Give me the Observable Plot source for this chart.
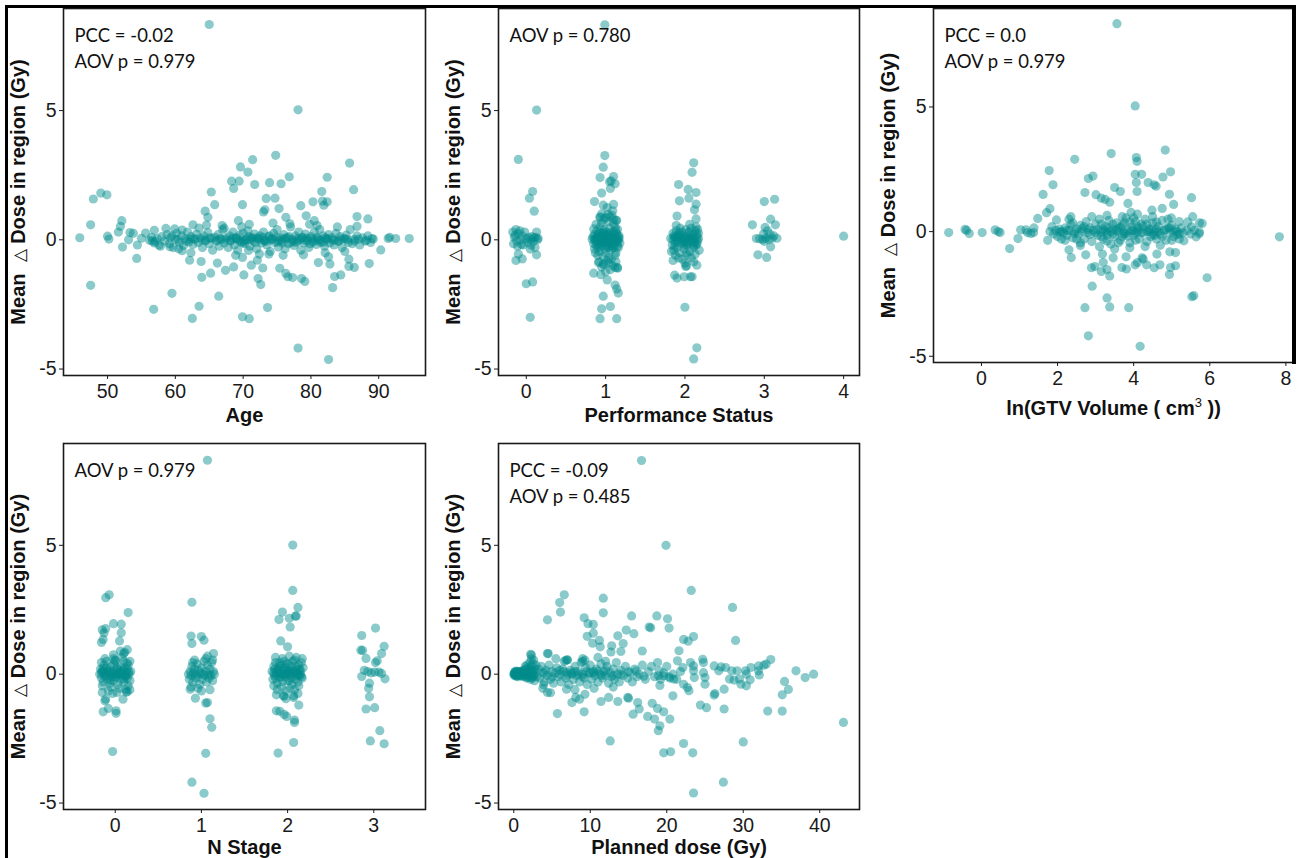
<!DOCTYPE html>
<html><head><meta charset="utf-8">
<script src="https://cdn.jsdelivr.net/npm/d3@7"></script>
<script src="https://cdn.jsdelivr.net/npm/@observablehq/plot@0.6"></script>
<style>
body{margin:0;background:#fff}
#fig{position:relative;width:1298px;height:858px;overflow:hidden;background:#fff}
.pan{position:absolute}
.deco{position:absolute;background:#000}
</style>
</head><body><div id="fig"></div>
<script>
// ---------- shared axis settings ----------
const yLabelText = "Mean  \u2206 Dose in region (Gy)";
const yTicks = [-5, 0, 5];
const yDomain = [-5.25, 8.95];

// ---------- Panel 1 : Age ----------
const ageTicks = [50, 60, 70, 80, 90];
const ageNotes = "PCC = -0.02\nAOV p = 0.979";
const agePts = [
[65.0,8.33],[78.1,5.03],[45.9,0.08],[47.5,0.58],[47.9,1.58],[49.0,1.81],[49.9,1.74],[47.5,-1.76],[50.0,0.14],[50.2,0.03],
[51.6,0.3],[51.9,0.52],[52.1,0.74],[52.2,-0.28],[53.3,0.28],[53.8,0.25],[53.1,0.0],[54.3,-0.72],[54.4,-0.2],[55.0,0.06],
[55.6,0.26],[56.8,-2.69],[56.9,0.37],[56.6,-0.05],[57.0,-0.06],[57.8,-0.25],[58.6,0.44],[59.5,-2.07],[59.5,0.15],[59.2,-0.27],
[60.5,-0.35],[61.0,0.38],[62.1,-0.79],[62.5,-3.04],[62.3,-0.5],[62.6,0.58],[63.5,-2.57],[63.8,-0.84],[63.9,-1.45],[64.4,1.11],
[64.8,0.87],[64.6,0.57],[65.2,-1.29],[65.3,1.85],[65.8,1.36],[66.2,-0.9],[66.4,-2.18],[67.2,0.45],[67.4,-1.18],[68.3,2.27],
[68.6,1.99],[68.6,-1.05],[69.4,2.27],[69.3,0.74],[69.6,2.82],[69.9,1.36],[69.9,-2.98],[70.1,-1.36],[69.9,-0.68],[70.7,2.62],
[70.9,-3.05],[70.8,-0.41],[71.2,-0.98],[71.4,3.1],[71.7,2.14],[72.1,-0.79],[72.2,-1.5],[72.6,-1.73],[72.9,-1.09],[73.2,1.16],
[73.4,1.6],[73.6,-2.62],[73.9,2.21],[73.0,1.08],[74.7,1.61],[74.8,3.27],[75.3,1.21],[75.4,-1.1],[75.6,2.17],[76.3,0.87],
[76.3,-1.3],[76.6,-1.43],[76.8,2.44],[77.3,-1.46],[78.1,-4.19],[78.5,1.32],[78.6,-1.5],[79.1,-1.61],[79.3,0.93],[80.3,1.47],
[80.5,0.74],[81.1,-0.88],[81.6,1.87],[81.7,1.5],[81.9,1.34],[82.4,1.47],[82.4,2.42],[82.6,-4.63],[82.6,-0.66],[82.8,-0.94],
[83.2,-1.85],[83.5,-1.42],[84.4,-1.36],[85.6,-0.75],[85.6,-1.03],[85.7,2.97],[86.3,1.94],[86.4,-1.07],[86.8,0.9],[86.8,0.52],
[88.4,0.81],[88.6,-0.92],[89.0,0.05],[90.3,-0.39],[91.4,0.05],[91.6,0.1],[92.5,0.05],[94.5,0.05],
[56.2,-0.02],[56.5,0.1],[56.9,-0.12],[57.3,0.05],[57.6,-0.2],[58.0,0.12],[58.4,-0.05],[58.8,0.2],[59.1,-0.15],[59.3,0.08],
[59.7,-0.3],[60.0,0.02],[60.2,0.25],[60.6,-0.1],[60.9,0.15],[61.2,-0.22],[61.5,0.05],[61.8,0.3],[62.0,-0.08],[62.3,0.12],
[62.6,-0.18],[62.9,0.02],[63.1,0.22],[63.4,-0.1],[63.7,0.08],[64.0,-0.3],[64.2,0.15],[64.5,-0.02],[64.8,0.28],[65.0,-0.15],
[65.3,0.05],[65.5,-0.4],[65.8,0.1],[66.0,-0.06],[66.3,0.2],[66.5,-0.25],[66.8,0.02],[67.0,0.4],[67.2,-0.12],[67.5,0.08],
[67.8,-0.3],[68.0,0.15],[68.2,-0.05],[68.5,0.3],[68.7,-0.2],[69.0,0.05],[69.2,-0.4],[69.5,0.18],[69.7,-0.08],[70.0,0.25],
[70.2,-0.15],[70.5,0.02],[70.7,0.35],[71.0,-0.25],[71.2,0.1],[71.5,-0.05],[71.7,0.22],[72.0,-0.35],[72.2,0.05],[72.5,0.15],
[72.7,-0.12],[73.0,0.3],[73.2,-0.02],[73.5,-0.2],[73.7,0.12],[74.0,-0.45],[74.2,0.05],[74.5,0.25],[74.7,-0.1],[75.0,0.4],
[75.2,-0.28],[75.5,0.08],[75.7,-0.05],[76.0,0.2],[76.2,-0.35],[76.5,0.1],[76.7,-0.15],[77.0,0.5],[77.2,0.02],[77.5,-0.22],
[77.7,0.15],[78.0,-0.05],[78.2,0.3],[78.5,-0.4],[78.7,0.08],[79.0,-0.12],[79.2,0.22],[79.5,-0.02],[79.7,-0.3],[80.0,0.12],
[80.3,-0.08],[80.5,0.3],[80.8,-0.18],[81.0,0.05],[81.3,0.4],[81.5,-0.1],[81.8,0.15],[82.0,-0.25],[82.3,0.02],[82.6,0.2],
[82.8,-0.12],[83.1,0.08],[83.4,-0.2],[83.7,0.25],[84.0,-0.05],[84.3,0.12],[84.6,-0.3],[84.9,0.05],[85.2,0.18],[85.5,-0.1],
[85.8,0.4],[86.1,-0.15],[86.4,0.02],[86.8,0.15],[87.2,-0.2],[87.6,0.08],[88.0,-0.05],[88.4,0.15],[88.8,-0.1],[89.2,0.03],
[66.9,0.55],[68.9,-0.6],[70.9,0.6],[72.4,-0.55],[74.4,0.65],[75.9,-0.6],[76.9,0.62],[78.9,-0.58],[80.9,0.55],[82.1,-0.5],
[83.9,0.5],[85.0,-0.45],[63.5,0.45],[61.0,-0.42],[59.9,0.42],[69.8,0.5],[73.8,-0.55],[79.8,0.6],
[60.4,0.0],[61.6,-0.05],[62.7,0.05],[63.9,0.0],[65.1,0.08],[66.2,-0.02],[67.4,0.0],[68.4,0.06],[69.4,-0.04],[70.4,0.0],
[71.4,0.06],[72.4,0.0],[73.4,-0.06],[74.4,0.02],[75.4,-0.02],[76.4,0.05],[77.4,-0.04],[78.4,0.0],[79.4,0.06],[80.4,-0.03],
[81.4,0.0],[82.4,0.05],[83.4,-0.02],[84.4,0.02],[85.4,0.0],[86.4,-0.05],[74.9,0.1],[75.8,-0.12],[76.8,0.12],[77.8,-0.1],
[78.8,0.1],[71.8,-0.1],[70.8,0.12],[69.9,-0.12],[68.9,0.1],[72.9,0.1],[73.9,0.15],[79.9,-0.15],[80.9,0.1],[81.9,-0.08]
];
const ageCore = [
[62.2,0.02],[64.4,-0.04],[66.6,0.05],[68.1,-0.02],[69.1,0.04],[70.1,-0.06],[71.1,0.02],[72.1,0.08],[73.1,-0.04],[74.1,0.0],
[75.1,-0.08],[76.1,0.04],[77.1,-0.1],[78.1,0.06],[79.1,-0.02],[80.1,0.05],[81.1,-0.04],[82.1,0.08],[83.1,0.0],[84.1,-0.06],
[85.1,0.04],[87.0,0.02],[88.2,-0.02]
];

// ---------- Panel 2 : Performance Status ----------
const psTicks = [0, 1, 2, 3, 4];
const psNotes = "AOV p = 0.780";
const psPts = [
[-0.10,3.11],[0.13,5.02],[0.08,1.87],[0.04,1.61],[0.10,1.11],[0.13,0.3],[0.13,-0.58],[-0.10,-0.55],[-0.05,-0.74],[-0.13,-0.8],
[0.0,-1.7],[0.08,-1.63],[0.05,-3.0],[0.05,-0.36],
[-0.17,0.3],[-0.15,0.1],[-0.13,0.4],[-0.12,-0.05],[-0.1,0.25],[-0.08,0.35],[-0.07,0.0],[-0.05,0.15],[-0.04,-0.2],[-0.02,0.3],
[0.0,0.05],[0.02,-0.1],[0.03,0.1],[0.05,0.0],[0.07,0.12],[0.09,-0.05],[0.1,0.08],[0.12,0.1],[0.14,0.0],[-0.16,-0.15],
[-0.11,-0.25],[-0.06,-0.18],[0.06,-0.2],[0.11,-0.3],[0.15,0.05],[-0.14,0.18],
[0.99,8.32],[0.99,3.26],[0.97,2.81],[0.93,2.41],[1.10,2.45],[1.05,2.25],[1.07,2.28],[1.12,2.17],[1.06,1.99],[0.95,1.81],
[0.86,1.48],[0.97,1.34],[1.10,1.37],[1.09,1.12],[0.93,0.89],[1.0,0.86],[1.13,0.75],[1.03,0.99],
[0.85,-1.29],[0.94,-1.35],[1.0,-1.24],[0.91,-0.88],[0.97,-0.94],[1.07,-0.75],[1.12,-1.07],[1.15,-1.07],[1.02,-1.55],[1.12,-1.75],
[1.14,-1.9],[1.16,-2.06],[0.97,-2.18],[0.95,-2.67],[1.06,-2.58],[0.93,-3.05],[1.14,-3.05],
[0.83,0.02],[0.85,-0.15],[0.86,0.2],[0.88,-0.05],[0.89,0.35],[0.9,-0.3],[0.91,0.1],[0.92,-0.45],[0.93,0.5],[0.94,0.0],
[0.95,-0.2],[0.96,0.25],[0.97,-0.1],[0.98,0.4],[0.99,-0.35],[1.0,0.05],[1.01,0.3],[1.02,-0.25],[1.03,0.12],[1.04,-0.05],
[1.05,0.45],[1.06,-0.4],[1.07,0.18],[1.08,-0.15],[1.09,0.02],[1.1,0.3],[1.11,-0.28],[1.12,0.08],[1.13,-0.5],[1.14,0.22],
[1.15,-0.08],[1.16,0.0],[1.17,0.15],[1.18,-0.12],[0.84,0.12],[0.87,0.05],[0.9,0.15],[0.93,-0.12],[0.96,0.08],[0.99,0.0],
[1.02,0.08],[1.05,-0.08],[1.08,0.1],[1.11,0.0],[1.14,-0.05],[1.17,0.05],[0.88,0.6],[0.95,0.65],[1.03,0.7],[1.1,0.62],
[0.9,-0.6],[0.97,-0.65],[1.04,-0.7],[1.12,-0.6],[0.86,-0.35],[1.15,0.4],[1.0,-0.5],[0.92,0.28],[1.07,-0.22],[1.13,0.35],
[0.85,0.42],[1.16,-0.3],[0.94,-0.02],[1.01,-0.1],[1.06,0.2],[0.98,0.18],[1.09,-0.32],[0.91,-0.18],[1.12,0.5],[0.87,-0.5],
[0.93,0.85],[0.95,1.0],[1.05,0.9],[1.1,0.8],[1.02,1.25],[1.08,0.95],[0.98,0.8],[1.14,0.75],[0.92,-0.85],[0.98,-0.95],
[1.04,-0.9],[1.09,-1.0],[1.13,-0.85],[0.95,-1.05],[1.06,-1.15],[1.02,-0.8],[1.15,-1.1],
[2.11,2.98],[2.09,2.61],[1.92,2.14],[2.04,1.95],[2.14,1.83],[2.05,1.61],[1.93,1.51],[2.14,1.38],[2.12,1.16],[1.90,0.92],
[2.14,0.81],[1.87,-1.37],[1.90,-1.48],[1.99,-1.43],[2.07,-1.43],[2.09,-1.43],[2.01,-1.03],[2.02,-1.0],[2.15,-0.98],[2.0,-2.61],
[2.15,-4.18],[2.11,-4.61],
[1.82,0.05],[1.84,-0.2],[1.85,0.25],[1.86,-0.4],[1.87,0.1],[1.88,-0.1],[1.89,0.35],[1.9,-0.3],[1.91,0.0],[1.92,0.2],
[1.93,-0.5],[1.94,0.08],[1.95,-0.15],[1.96,0.3],[1.97,-0.05],[1.98,0.15],[1.99,-0.35],[2.0,0.02],[2.01,0.4],[2.02,-0.2],
[2.03,0.1],[2.04,-0.08],[2.05,0.28],[2.06,-0.45],[2.07,0.05],[2.08,0.45],[2.09,-0.12],[2.1,0.2],[2.11,-0.3],[2.12,0.0],
[2.13,0.35],[2.14,-0.2],[2.15,0.1],[2.16,-0.05],[2.17,0.25],[2.18,-0.4],[1.86,0.15],[1.9,0.12],[1.95,0.05],[2.0,-0.1],
[2.05,0.0],[2.1,0.08],[2.15,-0.15],[1.88,-0.6],[1.92,-0.7],[1.97,-0.75],[2.03,-0.6],[2.08,-0.7],[2.13,-0.55],[1.85,-0.8],
[2.0,-0.9],[2.11,-0.85],[1.89,0.55],[2.06,0.6],[2.14,0.5],[1.94,0.45],[2.02,-0.5],[1.83,-0.45],[2.16,0.4],
[2.85,0.58],[3.0,1.48],[3.13,1.57],[3.08,0.8],[3.14,0.58],[3.01,0.48],[3.04,0.35],[2.92,-0.58],[3.03,-0.68],[3.08,-0.27],
[2.9,0.05],[2.94,0.04],[2.98,0.01],[3.02,0.06],[3.06,0.01],[3.1,0.06],[3.16,0.06],[3.0,-0.06],[3.12,0.15],[2.99,0.22],[3.07,0.22],
[4.0,0.14]
];
const psCore = [
[0.86,0.0],[0.89,0.08],[0.92,-0.05],[0.95,0.12],[0.98,-0.08],[1.01,0.15],[1.04,0.02],[1.07,-0.12],[1.1,0.1],[1.13,-0.02],
[1.16,0.12],[0.88,-0.2],[0.91,0.22],[0.94,-0.28],[0.97,0.3],[1.0,-0.18],[1.03,-0.3],[1.06,0.28],[1.09,-0.22],[1.12,0.2],
[1.15,-0.25],[0.9,0.0],[1.0,0.2],[1.05,0.0],[0.96,-0.02],
[1.85,0.0],[1.88,0.1],[1.91,-0.08],[1.94,0.15],[1.97,0.02],[2.0,0.1],[2.03,-0.15],[2.06,0.12],[2.09,0.0],[2.12,-0.1],
[2.15,0.2],[1.87,-0.25],[1.93,0.28],[1.99,-0.2],[2.05,0.3],[2.11,-0.22],[2.17,0.05]
];

// ---------- Panel 3 : ln(GTV volume) ----------
const gtvTicks = [0, 2, 4, 6, 8];
const gtvNotes = "PCC = 0.0\nAOV p = 0.979";
const gtvPts = [
[3.56,8.34],[4.04,5.04],[-0.86,-0.04],[-0.43,0.09],[-0.39,0.05],[-0.32,-0.08],[0.02,-0.04],[0.36,0.07],[0.49,-0.04],[0.44,0.0],
[0.74,-0.68],[0.96,-0.28],[1.03,0.07],[1.17,0.07],[1.21,-0.04],[1.3,-0.08],[1.38,0.15],[1.37,-0.04],[1.48,0.53],[1.62,1.49],
[1.71,0.76],[1.8,0.92],[1.78,2.45],[1.88,1.88],[1.74,-0.35],[1.97,0.47],[2.35,0.6],[2.3,-0.73],[2.36,-1.04],[2.45,2.9],
[2.6,-0.56],[2.72,1.57],[2.74,-0.93],[2.81,2.13],[2.93,2.23],[2.89,-1.45],[2.98,-1.4],[2.91,-2.19],[2.72,-3.05],[2.81,-4.18],
[3.01,1.48],[3.15,1.34],[3.25,1.29],[3.37,1.18],[3.18,-0.9],[3.2,-1.24],[3.15,-1.6],[3.3,-1.52],[3.3,-2.66],[3.37,-3.02],
[3.37,-1.78],[3.41,3.13],[3.5,1.77],[3.46,-1.05],[3.65,1.61],[3.69,-1.44],[3.81,-1.5],[3.8,-1.01],[3.87,-3.05],[3.85,1.13],
[3.93,0.77],[4.07,2.97],[4.09,2.82],[4.04,2.3],[4.21,2.3],[4.07,1.97],[4.09,1.61],[4.04,-1.33],[4.1,-1.24],[4.22,-1.05],
[4.25,-1.1],[4.17,-4.6],[4.34,-1.33],[4.38,1.97],[4.54,1.88],[4.59,1.82],[4.48,0.86],[4.54,-1.45],[4.69,-1.33],[4.61,-0.9],
[4.75,0.93],[4.77,2.19],[4.83,3.27],[4.97,2.4],[4.94,1.5],[5.05,1.09],[4.99,0.55],[4.94,-1.72],[4.97,-1.44],[5.1,-1.37],
[4.95,-0.81],[5.1,-0.84],[5.2,-0.3],[5.32,-0.37],[5.42,0.39],[5.52,1.36],[5.55,0.6],[5.52,0.19],[5.73,0.35],[5.8,0.33],
[5.64,-0.21],[5.72,-0.09],[5.73,-0.02],[5.53,-2.61],[5.58,-2.57],[5.93,-1.85],[7.83,-0.21],
[1.8,0.0],[1.85,0.2],[1.9,-0.1],[1.95,0.05],[2.0,-0.2],[2.05,0.1],[2.1,0.0],[2.15,-0.05],[2.2,0.15],[2.25,-0.15],
[2.3,0.05],[2.35,0.3],[2.4,-0.25],[2.45,0.0],[2.5,0.1],[2.55,-0.1],[2.6,0.25],[2.65,0.02],[2.7,-0.3],[2.75,0.4],
[2.8,-0.05],[2.85,0.15],[2.9,-0.4],[2.95,0.05],[3.0,0.3],[3.05,-0.15],[3.1,0.5],[3.15,0.0],[3.2,-0.3],[3.25,0.2],
[3.3,-0.05],[3.35,0.45],[3.4,-0.5],[3.45,0.1],[3.5,-0.2],[3.55,0.35],[3.6,0.0],[3.65,-0.35],[3.7,0.25],[3.75,-0.1],
[3.8,0.55],[3.85,0.05],[3.9,-0.45],[3.95,0.2],[4.0,-0.15],[4.05,0.4],[4.1,0.0],[4.15,-0.3],[4.2,0.3],[4.25,-0.05],
[4.3,0.5],[4.35,-0.4],[4.4,0.1],[4.45,-0.2],[4.5,0.35],[4.55,0.0],[4.6,-0.3],[4.65,0.2],[4.7,-0.1],[4.75,0.45],
[4.8,0.05],[4.85,-0.35],[4.9,0.15],[4.95,-0.05],[5.0,0.25],[5.05,-0.2],[5.1,0.1],[5.15,0.0],[5.2,-0.1],[5.25,0.15],
[5.3,-0.05],[5.4,0.05],[5.5,-0.1],[5.6,0.05],[2.6,-0.45],[2.9,0.6],[3.1,-0.6],[3.3,0.65],[3.5,-0.7],[3.7,0.6],
[3.9,-0.65],[4.1,0.7],[4.3,-0.6],[4.5,0.6],[4.7,-0.55],[4.9,0.5],[3.2,0.1],[3.4,0.0],[3.6,0.12],[3.8,-0.08],
[4.0,0.05],[4.2,-0.05],[4.4,0.0],[4.6,0.08],[3.0,-0.05],[2.8,0.08],[3.3,-0.15],[3.7,-0.2],[4.1,0.2],[4.5,-0.12],
[2.2,-0.35],[2.4,0.35],[5.2,0.4],[5.0,-0.35],[3.6,-0.45],[4.0,0.55],[2.3,0.5],[2.1,-0.3]
];
const gtvCore = [
[2.05,-0.02],[2.25,0.05],[2.45,-0.08],[2.65,0.12],[2.85,-0.12],[3.05,0.08],[3.15,-0.2],[3.25,0.02],[3.35,0.15],[3.45,-0.1],
[3.55,0.05],[3.65,0.18],[3.75,-0.02],[3.85,-0.18],[3.95,0.05],[4.05,-0.05],[4.15,0.12],[4.25,0.22],[4.35,0.0],[4.45,0.1],
[4.55,-0.15],[4.65,0.0],[4.75,-0.2],[4.85,0.1],[4.95,0.15],[5.05,0.0],[5.15,-0.12],[3.15,0.3],[3.45,0.3],[3.75,0.35],
[4.05,-0.35],[4.35,0.3],[3.9,0.4],[3.3,-0.38],[4.6,0.38],[2.7,0.2],[2.5,-0.3]
];

// ---------- Panel 4 : N stage ----------
const nTicks = [0, 1, 2, 3];
const nNotes = "AOV p = 0.979";
const nPts = [
[1.07,8.30],[2.06,5.01],
[-0.11,2.97],[-0.07,3.08],[0.15,2.39],[-0.15,1.72],[-0.13,1.6],[-0.11,1.77],[-0.02,1.96],[0.07,1.94],
[0.07,1.61],[0.05,1.29],[-0.16,1.23],[-0.14,1.35],[0.11,0.85],[-0.02,0.75],[0.0,0.52],[0.14,0.43],[-0.15,-0.71],[-0.12,-1.03],
[-0.11,-0.97],[-0.08,-1.33],[-0.14,-1.46],[0.01,-1.52],[0.01,-1.42],[0.02,-0.71],[0.09,-0.97],[0.14,-0.67],[-0.03,-3.0],
[-0.18,0.0],[-0.17,0.2],[-0.16,-0.15],[-0.15,0.1],[-0.14,-0.3],[-0.13,0.35],[-0.12,0.05],[-0.11,-0.05],[-0.1,0.25],[-0.09,-0.2],
[-0.08,0.0],[-0.07,0.15],[-0.06,-0.35],[-0.05,0.3],[-0.04,-0.1],[-0.03,0.08],[-0.02,-0.25],[-0.01,0.4],[0.0,0.02],[0.01,-0.12],
[0.02,0.2],[0.03,-0.4],[0.04,0.1],[0.05,-0.05],[0.06,0.3],[0.07,-0.2],[0.08,0.0],[0.09,0.15],[0.1,-0.3],[0.11,0.25],
[0.12,-0.08],[0.13,0.05],[0.14,-0.15],[0.15,0.35],[0.16,0.0],[0.17,-0.25],[0.18,0.1],[-0.15,-0.45],[-0.1,0.5],[-0.05,-0.5],
[0.0,0.55],[0.05,-0.55],[0.1,0.5],[0.15,-0.45],[-0.12,0.6],[0.12,-0.6],[-0.08,-0.65],[0.08,0.65],[-0.16,0.45],[0.17,0.5],
[0.13,-0.7],[-0.03,-0.75],[0.1,0.8],[0.14,0.95],[0.06,0.9],[-0.02,0.6],[0.17,-0.6],[-0.14,0.1],[0.02,-0.02],[-0.06,0.05],
[0.89,2.79],[0.88,1.48],[0.89,1.19],[1.0,1.46],[1.03,1.32],[1.14,0.8],[0.87,-0.58],[0.93,-0.93],[1.05,-1.12],[1.07,-1.1],
[1.1,-1.73],[1.12,-2.06],[1.05,-3.07],[0.89,-4.19],[1.03,-4.62],
[0.85,0.0],[0.86,-0.2],[0.87,0.1],[0.88,-0.05],[0.89,0.3],[0.9,-0.3],[0.91,0.05],[0.92,0.2],[0.93,-0.15],[0.94,0.0],
[0.95,0.4],[0.96,-0.1],[0.97,0.15],[0.98,-0.4],[0.99,0.05],[1.0,0.25],[1.01,-0.2],[1.02,0.0],[1.03,0.5],[1.04,-0.05],
[1.05,0.1],[1.06,-0.3],[1.07,0.35],[1.08,0.0],[1.09,-0.15],[1.1,0.2],[1.11,-0.05],[1.12,0.45],[1.13,-0.25],[1.14,0.1],
[1.15,0.0],[0.92,0.55],[1.05,0.6],[0.96,-0.55],[1.1,-0.6],[0.88,-0.5],[1.13,0.55],[0.9,0.45],[1.0,-0.65],[1.07,0.7],
[2.06,3.25],[2.12,2.59],[1.94,2.41],[1.9,2.12],[2.02,2.17],[2.09,2.25],[2.1,2.26],[2.03,1.83],[1.92,1.29],[2.0,1.06],
[1.87,-1.42],[1.91,-1.44],[1.96,-1.56],[1.99,-1.64],[2.08,-1.78],[2.08,-1.87],[2.13,-1.2],[2.07,-0.84],[1.95,-0.84],[1.98,-0.95],
[2.07,-2.65],[1.89,-3.06],
[1.82,0.1],[1.83,-0.2],[1.84,0.3],[1.85,-0.05],[1.86,0.45],[1.87,0.0],[1.88,-0.35],[1.89,0.2],[1.9,0.05],[1.91,-0.15],
[1.92,0.35],[1.93,0.0],[1.94,-0.3],[1.95,0.15],[1.96,0.5],[1.97,-0.1],[1.98,0.25],[1.99,0.02],[2.0,-0.25],[2.01,0.4],
[2.02,0.1],[2.03,-0.05],[2.04,0.3],[2.05,-0.4],[2.06,0.15],[2.07,0.0],[2.08,0.55],[2.09,-0.2],[2.1,0.2],[2.11,0.05],
[2.12,-0.3],[2.13,0.35],[2.14,-0.05],[2.15,0.12],[2.16,0.45],[2.17,-0.15],[2.18,0.25],[1.85,0.2],[1.9,0.3],[1.95,-0.02],
[2.0,0.15],[2.05,0.08],[2.1,-0.08],[2.15,0.0],[1.84,-0.45],[1.88,-0.6],[1.93,-0.5],[1.98,-0.65],[2.03,-0.55],[2.08,-0.6],
[2.13,-0.45],[1.86,0.65],[1.94,0.6],[2.02,0.7],[2.1,0.65],[2.17,0.6],[1.87,-0.8],[1.96,-0.85],[2.07,-0.9],[2.12,-0.75],
[1.91,0.45],[2.06,0.5],[1.99,0.4],
[2.86,1.5],[3.02,1.79],[3.12,1.08],[2.85,0.93],[2.87,0.92],[3.09,0.8],[2.91,0.61],[3.02,0.45],[3.04,0.52],[2.89,0.15],
[2.93,0.1],[2.97,0.05],[3.01,0.08],[3.06,0.08],[3.09,0.03],[2.86,-0.09],[3.13,-0.18],[2.95,-0.35],[2.94,-0.55],[2.95,-0.88],
[2.91,-1.35],[3.01,-1.3],[3.07,-2.19],[2.96,-2.59],[3.12,-2.7]
];
const nCore = [
[-0.16,0.05],[-0.12,-0.1],[-0.08,0.12],[-0.04,0.0],[0.0,-0.1],[0.04,0.05],[0.08,0.12],[0.12,-0.05],[0.16,0.08],[-0.14,0.22],
[-0.06,-0.22],[0.02,0.25],[0.1,-0.18],[0.14,0.2],
[1.84,0.05],[1.88,0.12],[1.92,-0.1],[1.96,0.0],[2.0,0.05],[2.04,-0.15],[2.08,0.1],[2.12,0.0],[2.16,-0.1],[1.86,-0.15],
[1.94,0.22],[2.02,-0.25],[2.1,0.3],[2.14,0.18]
];

// ---------- Panel 5 : Planned dose ----------
const doseTicks = [0, 10, 20, 30, 40];
const doseNotes = "PCC = -0.09\nAOV p = 0.485";
const dosePts = [
[16.7,8.29],[19.9,5.0],[23.2,3.25],[6.6,3.08],[6.0,2.78],[6.1,2.41],[4.4,2.11],[11.7,2.95],[11.7,2.38],[9.2,2.19],
[9.7,1.96],[10.4,1.93],[9.6,1.47],[10.4,1.59],[10.3,1.2],[11.2,1.31],[11.3,1.06],[12.8,1.1],[12.7,0.86],[14.0,0.88],
[14.3,1.19],[14.7,1.71],[13.6,1.49],[15.7,1.57],[15.4,2.26],[17.7,1.83],[17.9,1.8],[18.7,2.26],[20.1,2.15],[20.3,1.79],[16.8,0.9],
[21.6,0.91],[22.2,1.35],[22.8,1.28],[23.5,1.46],[28.6,2.59],[29.0,1.31],[33.6,0.57],[36.9,0.13],[38.1,-0.13],[39.2,0.0],
[43.1,-1.87],[35.4,-0.28],[35.1,-0.8],[35.9,-0.59],[35.1,-1.43],[33.2,-1.43],[30.0,-2.63],[27.4,-4.19],[23.5,-4.61],[22.2,-2.69],
[23.4,-3.05],[19.6,-3.05],[20.5,-3.01],[12.6,-2.59],[5.7,-1.53],[9.2,-1.46],[7.6,-1.1],[8.1,-0.9],[8.6,-0.97],[9.3,-0.78],
[11.4,-1.06],[13.6,-1.06],[12.4,-0.9],[14.9,-0.9],[15.0,-0.93],[15.6,-1.55],[16.2,-1.1],[16.4,-1.35],[17.5,-1.64],[18.1,-1.13],
[18.4,-1.74],[18.8,-1.33],[19.1,-2.0],[18.9,-2.19],[19.6,-1.46],[20.4,-1.74],[20.8,-0.84],[24.4,-1.2],[25.2,-1.3],[26.3,-0.75],
[26.2,-0.81],[27.5,-0.58],[27.5,-1.35],[30.4,-0.45],[3.9,-0.41],[4.4,-0.71],[4.8,-0.72],[6.8,0.54],[7.0,0.56],[4.4,0.8],
[2.2,0.77],[2.3,0.74],[6.9,-0.58],[9.0,0.5],[9.3,0.55],[19.1,-0.44],[19.0,0.13],[18.9,-0.06],
[24.7,0.58],[24.8,0.45],[24.8,0.06],[25.0,-0.13],[25.0,-0.39],[23.1,0.45],[23.5,0.32],[23.5,0.13],[23.6,-0.13],
[26.2,0.32],[26.8,0.13],[27.1,0.28],[27.7,0.26],[28.2,-0.19],[28.5,0.13],[28.8,-0.23],[29.2,0.13],[29.5,-0.19],[29.7,-0.39],
[30.3,0.13],[30.4,0.0],[30.9,-0.22],[31.0,0.26],[32.0,0.13],[32.1,-0.03],[32.0,0.32],[32.7,0.35],[33.0,0.39],
[22.2,-0.39],[22.7,-0.52],[22.9,-0.64],[19.6,-0.06],[20.3,-0.1],[20.9,-0.19],[21.4,0.52],[22.1,0.26],
[0.0,0.0],[0.1,0.05],[0.2,-0.02],[0.3,0.03],[0.4,0.0],[0.5,-0.05],[0.6,0.02],[0.7,0.08],[0.8,-0.03],[0.9,0.0],
[1.0,0.1],[1.1,-0.08],[1.2,0.05],[1.3,0.15],[1.4,-0.1],[1.5,0.02],[1.6,0.2],[1.7,-0.15],[1.8,0.05],[1.9,0.25],
[2.0,-0.05],[2.1,0.1],[2.2,-0.2],[2.3,0.3],[2.4,0.0],[2.5,-0.1],[2.6,0.15],[2.7,-0.25],[2.8,0.05],[2.9,0.35],
[3.0,-0.1],[0.2,0.08],[0.4,-0.06],[0.6,0.1],[0.8,0.06],[1.0,-0.06],[1.2,0.12],[1.4,0.06],[1.6,-0.04],[1.8,-0.12],
[2.0,0.18],[2.2,0.05],[2.4,-0.15],[2.6,-0.05],[2.8,0.2],[1.5,0.3],[2.1,0.45],[2.5,0.4],[2.3,0.6],[2.6,0.55],
[1.7,0.35],[0.5,0.1],[0.3,-0.08],[0.1,-0.05],[0.05,0.02],[0.15,0.1],[0.25,0.0],[0.35,0.12],[0.45,0.05],[0.55,-0.1],
[3.2,0.2],[3.4,-0.15],[3.6,0.3],[3.8,0.05],[4.0,-0.3],[4.2,0.15],[4.4,-0.05],[4.6,0.35],[4.8,-0.2],[5.0,0.1],
[5.2,-0.35],[5.4,0.05],[5.6,0.25],[5.8,-0.1],[6.0,0.0],[6.2,-0.3],[6.4,0.2],[6.6,0.5],[6.8,-0.15],[7.0,0.05],
[7.2,-0.4],[7.4,0.15],[7.6,0.0],[7.8,-0.2],[8.0,0.3],[8.2,-0.05],[8.4,0.1],[8.6,-0.3],[8.8,0.45],[9.0,0.0],
[9.2,-0.15],[9.4,0.25],[9.6,-0.4],[9.8,0.05],[10.0,0.35],[10.2,-0.2],[10.4,0.1],[10.6,-0.05],[10.8,0.2],[11.0,-0.3],
[11.2,0.0],[11.4,0.4],[11.6,-0.15],[11.8,0.1],[12.0,-0.05],[12.2,0.3],[12.4,-0.35],[12.6,0.05],[12.8,-0.1],[13.0,0.2],
[13.2,-0.2],[13.4,0.45],[13.6,0.0],[13.8,-0.3],[14.0,0.15],[14.3,-0.05],[14.6,0.3],[14.9,-0.15],[15.2,0.05],[15.5,-0.3],
[15.8,0.2],[16.1,-0.1],[16.4,0.0],[16.8,0.35],[17.2,-0.2],[17.6,0.1],[18.0,0.3],[18.4,-0.1],[18.8,0.45],[19.2,-0.2],
[19.6,0.05],[20.0,0.3],[20.4,-0.15],[20.8,0.0],[21.3,-0.2],[21.8,0.1],[5.5,0.6],[7.0,0.55],[4.5,0.8],[3.8,-0.55],
[9.0,0.6],[10.5,-0.55],[12.0,0.5],[8.0,-0.6],[11.0,0.65],[13.0,-0.5],[7.5,0.05],[9.5,0.1],[10.5,0.05],[11.5,-0.05],
[6.5,0.1],[8.5,0.0]
];
const doseCore = [
[0.3,0.0],[0.6,-0.02],[0.9,0.06],[1.2,-0.03],[1.5,0.08],[1.8,0.0],[2.1,-0.1],[2.4,0.1],[4.0,0.05],[5.0,-0.1],
[6.0,0.15],[7.0,-0.05],[8.0,0.1],[9.0,-0.1],[10.0,0.05],[11.0,0.12],[12.0,0.15],[13.0,-0.05],[14.0,0.0],[15.0,0.1],
[16.0,0.12],[17.0,-0.08]
];

// ---------- drawing ----------
const fig = document.getElementById("fig");
const fmt = d => String(d);

function deco(l, t, w, h, c) {
  const d = document.createElement("div");
  d.className = "deco";
  Object.assign(d.style, {left: l + "px", top: t + "px", width: w + "px", height: h + "px"});
  if (c) d.style.background = c;
  fig.appendChild(d);
}

function panel(o) {
  const svg = Plot.plot({
    width: o.w, height: o.h,
    marginLeft: o.ml, marginRight: o.mr, marginTop: o.mt, marginBottom: o.mb,
    style: {fontFamily: "'Liberation Sans', Arial, sans-serif", fontSize: "19.5px", color: "#1a1a1a", background: "transparent", overflow: "visible"},
    x: {domain: o.xDomain, ticks: o.xTicks, tickSize: 4, tickPadding: 5, tickFormat: fmt, label: null},
    y: {domain: yDomain, ticks: yTicks, tickSize: 4, tickPadding: 3, tickFormat: fmt, label: null},
    marks: [
      Plot.dot(o.pts, {x: d => d[0], y: d => d[1], r: 4.6, fill: "#008B8B", fillOpacity: 0.46, stroke: "none"}),
      Plot.frame({stroke: "#1a1a1a", strokeWidth: 1.6}),
      Plot.text([o.notes], {frameAnchor: "top-left", dx: 11, dy: 15, lineAnchor: "top", textAnchor: "start",
        fontFamily: "Lato, 'Open Sans', sans-serif", fontSize: 18.5, lineHeight: 1.42, fill: "#111"}),
      Plot.text([o.xLabel], {frameAnchor: "bottom", dy: o.xdy, lineAnchor: "middle", textAnchor: "middle", fontWeight: "bold", fontSize: 20, fill: "#111"}),
      Plot.text([yLabelText], {frameAnchor: "left", dx: -45, rotate: -90, lineAnchor: "middle", textAnchor: "middle", fontWeight: "bold", fontSize: 20, fill: "#111"})
    ]
  });
  svg.classList.add("pan");
  svg.style.left = o.left + "px";
  svg.style.top = o.top + "px";
  const ns = "http://www.w3.org/2000/svg";
  svg.querySelectorAll("text").forEach(t => {
    // thin (non-bold) delta glyph inside the y title
    if (t.textContent.includes("\u2206")) {
      const parts = t.textContent.split("\u2206");
      t.textContent = "";
      const a = document.createElementNS(ns, "tspan"); a.textContent = parts[0];
      const b = document.createElementNS(ns, "tspan"); b.textContent = "\u25B3"; b.setAttribute("font-weight", "normal"); b.setAttribute("font-size", "17");
      const c = document.createElementNS(ns, "tspan"); c.textContent = parts[1];
      t.append(a, b, c);
    }
    // superscript exponent in the volume title
    if (t.textContent.includes("\u00B3")) {
      const parts = t.textContent.split("\u00B3");
      t.textContent = "";
      const a = document.createElementNS(ns, "tspan"); a.textContent = parts[0];
      const b = document.createElementNS(ns, "tspan"); b.textContent = "3"; b.setAttribute("font-weight", "normal"); b.setAttribute("font-size", "13"); b.setAttribute("dy", "-8");
      const c = document.createElementNS(ns, "tspan"); c.textContent = parts[1]; c.setAttribute("dy", "8");
      t.append(a, b, c);
    }
  });
  fig.appendChild(svg);
}

panel({pts: agePts.concat(ageCore), xDomain: [43.5, 96.9], xTicks: ageTicks, xLabel: "Age", notes: ageNotes,
  left: 0, top: 0, w: 430, h: 430, ml: 63, mr: 5, mt: 8, mb: 55, xdy: 40});
panel({pts: psPts.concat(psCore), xDomain: [-0.35, 4.2], xTicks: psTicks, xLabel: "Performance Status", notes: psNotes,
  left: 430, top: 0, w: 434, h: 430, ml: 68, mr: 5, mt: 8, mb: 55, xdy: 40});
panel({pts: gtvPts.concat(gtvCore), xDomain: [-1.26, 8.2], xTicks: gtvTicks, xLabel: "ln(GTV Volume ( cm\u00B3 ))", notes: gtvNotes,
  left: 860, top: 0, w: 438, h: 430, ml: 73, mr: 5, mt: 8, mb: 68, xdy: 46});
panel({pts: nPts.concat(nCore), xDomain: [-0.6, 3.6], xTicks: nTicks, xLabel: "N Stage", notes: nNotes,
  left: 0, top: 430, w: 430, h: 428, ml: 63, mr: 5, mt: 13, mb: 49, xdy: 38});
panel({pts: dosePts.concat(doseCore), xDomain: [-2.0, 45.2], xTicks: doseTicks, xLabel: "Planned dose (Gy)", notes: doseNotes,
  left: 430, top: 430, w: 434, h: 428, ml: 68, mr: 5, mt: 13, mb: 49, xdy: 38});

// outer figure border
deco(5, 5, 1291, 3);
deco(5, 5, 3, 853);
deco(1292, 5, 4, 359);
deco(860, 9, 1, 356, "#bbb");
</script>
</body></html>
